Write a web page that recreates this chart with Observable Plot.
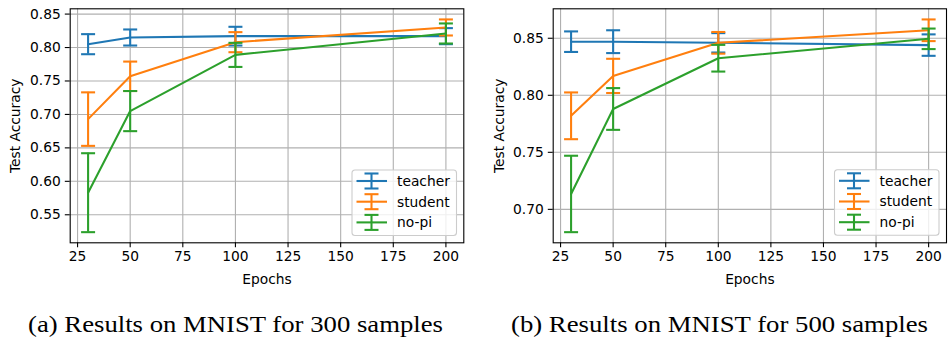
<!DOCTYPE html>
<html>
<head>
<meta charset="utf-8">
<script src="https://cdn.jsdelivr.net/npm/d3@7"></script>
<script src="https://cdn.jsdelivr.net/npm/@observablehq/plot@0.6"></script>
<style>
  html, body { margin: 0; padding: 0; background: #fff; }
  #page { position: relative; width: 948px; height: 339px; overflow: hidden; }
  #left, #right { position: absolute; top: 0; }
  #left { left: 0; }
  #right { left: 475px; }
  #overlay { position: absolute; left: 0; top: 0; }
</style>
</head>
<body>
<div id="page">
  <div id="left"></div>
  <div id="right"></div>
  <svg id="overlay" width="948" height="339"></svg>
</div>
<script>
// ---------- data ----------
const epochs = [30, 50, 100, 200];
const seriesNames = ["teacher", "student", "no-pi"];
const seriesColors = ["#1f77b4", "#ff7f0e", "#2ca02c"];

// (a) 300 samples
const teacher300 = [0.805, 0.815, 0.817, 0.817];
const teacherErr300 = [0.015, 0.012, 0.014, 0.012];
const student300 = [0.693, 0.757, 0.808, 0.830];
const studentErr300 = [0.040, 0.022, 0.015, 0.012];
const nopi300 = [0.583, 0.705, 0.789, 0.821];
const nopiErr300 = [0.059, 0.030, 0.018, 0.015];

// (b) 500 samples
const teacher500 = [0.847, 0.847, 0.846, 0.844];
const teacherErr500 = [0.009, 0.010, 0.0085, 0.0094];
const student500 = [0.782, 0.817, 0.846, 0.857];
const studentErr500 = [0.0205, 0.015, 0.0095, 0.0095];
const nopi500 = [0.7135, 0.788, 0.8325, 0.8495];
const nopiErr500 = [0.0335, 0.0183, 0.0117, 0.009];

const xTicks = [25, 50, 75, 100, 125, 150, 175, 200];
const yTicks300 = [0.55, 0.60, 0.65, 0.70, 0.75, 0.80, 0.85];
const yTicks500 = [0.70, 0.75, 0.80, 0.85];

const captions = ["(a) Results on MNIST for 300 samples", "(b) Results on MNIST for 500 samples"];
const xLabel = "Epochs";
const yLabel = "Test Accuracy";

// ---------- helpers ----------
const LW = 2.08;
const capSymbol = {
  draw(context, size) {
    const w = Math.sqrt(size / Math.PI);
    context.moveTo(-w, 0);
    context.lineTo(w, 0);
  }
};

function withMargin(lo, hi, f = 0.05) {
  const r = hi - lo;
  return [lo - f * r, hi + f * r];
}

function panel(el, cfg) {
  const rows = [];
  cfg.series.forEach(([vals, errs], si) => {
    epochs.forEach((e, i) => rows.push({epoch: e, acc: vals[i], err: errs[i], s: si}));
  });
  const lo = d3.min(rows, d => d.acc - d.err);
  const hi = d3.max(rows, d => d.acc + d.err);
  const ydom = withMargin(lo, hi);
  const xdom = withMargin(d3.min(epochs), d3.max(epochs));

  const marks = [
    Plot.gridX(xTicks, {stroke: "#b0b0b0", strokeOpacity: 1, strokeWidth: 1.1}),
    Plot.gridY(cfg.yTicks, {stroke: "#b0b0b0", strokeOpacity: 1, strokeWidth: 1.1})
  ];
  seriesNames.forEach((name, si) => {
    const data = rows.filter(d => d.s === si);
    const c = seriesColors[si];
    marks.push(
      Plot.line(data, {x: "epoch", y: "acc", stroke: c, strokeWidth: LW, strokeLinejoin: "round"}),
      Plot.ruleX(data, {x: "epoch", y1: d => d.acc - d.err, y2: d => d.acc + d.err, stroke: c, strokeWidth: LW}),
      Plot.dot(data, {x: "epoch", y: d => d.acc + d.err, symbol: capSymbol, r: 7, stroke: c, fill: "none", strokeWidth: LW}),
      Plot.dot(data, {x: "epoch", y: d => d.acc - d.err, symbol: capSymbol, r: 7, stroke: c, fill: "none", strokeWidth: LW})
    );
  });
  marks.push(
    Plot.axisX(xTicks, {tickSize: 4.9, tickPadding: 3.5, strokeWidth: 1.1, label: xLabel, labelAnchor: "center", labelOffset: 41, labelArrow: "none"}),
    Plot.axisY(cfg.yTicks, {tickSize: 4.9, tickPadding: 4.5, strokeWidth: 1.1, tickFormat: d3.format(".2f"), label: yLabel, labelAnchor: "center", labelOffset: cfg.labelOffset, labelArrow: "none"}),
    Plot.frame({stroke: "black", strokeWidth: 1.1})
  );

  const chart = Plot.plot({
    width: cfg.width,
    height: 290,
    marginLeft: cfg.ml,
    marginRight: cfg.mr,
    marginTop: 8.3,
    marginBottom: 47.7,
    x: {domain: xdom, type: "linear"},
    y: {domain: ydom, type: "linear"},
    style: {fontFamily: "'DejaVu Sans', sans-serif", fontSize: "13.8px", color: "black", background: "transparent"},
    marks
  });
  el.appendChild(chart);
}

panel(document.getElementById("left"), {
  width: 470, ml: 69.7, mr: 6.7, yTicks: yTicks300, labelOffset: 59.7,
  series: [[teacher300, teacherErr300], [student300, studentErr300], [nopi300, nopiErr300]]
});
panel(document.getElementById("right"), {
  width: 473, ml: 77.7, mr: 2, yTicks: yTicks500, labelOffset: 59.4,
  series: [[teacher500, teacherErr500], [student500, studentErr500], [nopi500, nopiErr500]]
});

// ---------- legends & captions (overlay) ----------
const ov = d3.select("#overlay");
function legend(x0, y0) {
  const g = ov.append("g").attr("transform", `translate(${x0},${y0})`);
  g.append("rect").attr("x", 0).attr("y", 0).attr("width", 104.5).attr("height", 65.5)
    .attr("rx", 3).attr("fill", "white").attr("fill-opacity", 0.8)
    .attr("stroke", "#cccccc").attr("stroke-width", 1.1);
  seriesNames.forEach((name, i) => {
    const cy = 11 + i * 20.7;
    const c = seriesColors[i];
    g.append("line").attr("x1", 4.5).attr("x2", 35).attr("y1", cy).attr("y2", cy).attr("stroke", c).attr("stroke-width", LW);
    g.append("line").attr("x1", 19.5).attr("x2", 19.5).attr("y1", cy - 7.5).attr("y2", cy + 7.5).attr("stroke", c).attr("stroke-width", LW);
    g.append("line").attr("x1", 12.5).attr("x2", 26.5).attr("y1", cy - 7.5).attr("y2", cy - 7.5).attr("stroke", c).attr("stroke-width", LW);
    g.append("line").attr("x1", 12.5).attr("x2", 26.5).attr("y1", cy + 7.5).attr("y2", cy + 7.5).attr("stroke", c).attr("stroke-width", LW);
    g.append("text").attr("x", 45).attr("y", cy).attr("dy", "0.35em")
      .attr("font-family", "'DejaVu Sans', sans-serif").attr("font-size", "13.8px").attr("fill", "black")
      .text(name);
  });
}
legend(352, 170);
legend(834.5, 169.8);

[[28, 415], [511, 417]].forEach(([x, w], i) => {
  ov.append("text").attr("x", x).attr("y", 332)
    .attr("font-family", "'Liberation Serif', 'DejaVu Serif', serif").attr("font-size", "23.5px")
    .attr("textLength", w).attr("lengthAdjust", "spacingAndGlyphs").attr("fill", "black")
    .text(captions[i]);
});
</script>
</body>
</html>
